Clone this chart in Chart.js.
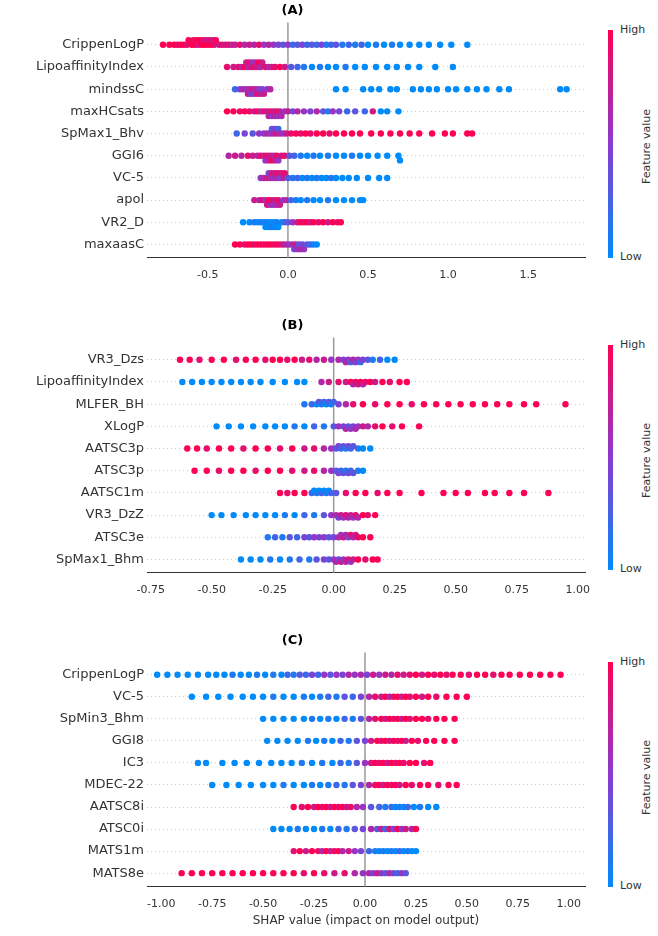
<!DOCTYPE html>
<html>
<head>
<meta charset="utf-8">
<script src="https://cdn.jsdelivr.net/npm/chart.js@4.4.0/dist/chart.umd.min.js"></script>
<style>
  body { margin: 0; background: #fff; font-family: "DejaVu Sans", sans-serif; }
  .panel { position: absolute; left: 0; width: 600px; }
  .cbar { position: absolute; left: 608px; width: 5px; background: linear-gradient(to bottom, #ff0052, #8a3ad0, #008bfb); }
  .cb-t { position: absolute; left: 620px; font-size: 11px; color: #333; }
  .cb-v { position: absolute; left: 640px; font-size: 11px; color: #333; transform: rotate(-90deg); transform-origin: left top; white-space: nowrap; }
</style>
</head>
<body>
<div class="panel" style="top:0;height:285px"><canvas id="cA"></canvas></div>
<div class="panel" style="top:315px;height:285px"><canvas id="cB"></canvas></div>
<div class="panel" style="top:630px;height:298px"><canvas id="cC"></canvas></div>
<div id="bars"></div>
<script>
// feature names per panel (top to bottom)
const namesA = ['CrippenLogP','LipoaffinityIndex','mindssC','maxHCsats','SpMax1_Bhv','GGI6','VC-5','apol','VR2_D','maxaasC'];
const namesB = ['VR3_Dzs','LipoaffinityIndex','MLFER_BH','XLogP','AATSC3p','ATSC3p','AATSC1m','VR3_DzZ','ATSC3e','SpMax1_Bhm'];
const namesC = ['CrippenLogP','VC-5','SpMin3_Bhm','GGI8','IC3','MDEC-22','AATSC8i','ATSC0i','MATS1m','MATS8e'];

// SHAP values with feature level (0 = low/blue .. 9 = high/red), pairs [shap, level]
const shapA = [
  [[-0.78,9],[-0.74,9],[-0.71,9],[-0.69,8],[-0.67,9],[-0.65,9],[-0.63,8],[-0.62,9],[-0.6,9],[-0.59,8],[-0.58,9],[-0.57,9],[-0.56,7],[-0.55,9],[-0.54,9],[-0.53,8],[-0.52,9],[-0.51,7],[-0.5,9],[-0.49,8],[-0.48,9],[-0.47,7],[-0.46,8],[-0.45,9],[-0.43,7],[-0.41,8],[-0.39,7],[-0.37,8],[-0.35,6],[-0.33,7],[-0.3,8],[-0.27,6],[-0.24,7],[-0.21,6],[-0.18,8],[-0.15,5],[-0.12,6],[-0.09,5],[-0.06,4],[-0.03,3],[0.0,5],[0.03,2],[0.06,3],[0.09,4],[0.12,2],[0.15,3],[0.18,2],[0.21,4],[0.24,1],[0.27,2],[0.3,3],[0.34,1],[0.38,2],[0.42,1],[0.46,2],[0.5,0],[0.55,1],[0.6,0],[0.65,1],[0.7,0],[0.76,0],[0.82,0],[0.88,0],[0.95,0],[1.02,0],[1.12,0]],
  [[-0.38,8],[-0.34,7],[-0.31,8],[-0.29,6],[-0.27,9],[-0.26,7],[-0.25,6],[-0.24,8],[-0.23,7],[-0.22,5],[-0.21,8],[-0.2,6],[-0.19,7],[-0.18,9],[-0.17,6],[-0.16,7],[-0.14,8],[-0.12,6],[-0.1,7],[-0.08,8],[-0.05,9],[-0.02,7],[0.02,3],[0.06,2],[0.1,1],[0.15,0],[0.2,1],[0.25,0],[0.3,0],[0.36,1],[0.42,0],[0.48,0],[0.55,0],[0.62,0],[0.68,0],[0.75,0],[0.82,0],[0.92,0],[1.03,0]],
  [[-0.33,2],[-0.3,4],[-0.28,6],[-0.26,5],[-0.25,7],[-0.24,6],[-0.23,4],[-0.22,7],[-0.21,5],[-0.2,6],[-0.19,8],[-0.18,5],[-0.17,6],[-0.16,4],[-0.15,7],[-0.13,5],[-0.11,6],[0.3,0],[0.36,0],[0.47,0],[0.52,0],[0.57,0],[0.64,0],[0.68,0],[0.78,0],[0.83,0],[0.88,0],[0.93,0],[1.0,0],[1.05,0],[1.12,0],[1.18,0],[1.24,0],[1.32,0],[1.38,0],[1.7,0],[1.74,0]],
  [[-0.38,9],[-0.34,9],[-0.3,8],[-0.27,9],[-0.24,8],[-0.21,7],[-0.19,9],[-0.17,6],[-0.15,8],[-0.13,7],[-0.12,6],[-0.11,8],[-0.1,5],[-0.09,7],[-0.08,6],[-0.07,8],[-0.06,5],[-0.05,7],[-0.04,6],[-0.02,5],[0.0,7],[0.03,4],[0.06,6],[0.1,5],[0.14,4],[0.18,6],[0.22,3],[0.25,1],[0.28,5],[0.32,4],[0.37,2],[0.42,3],[0.48,2],[0.53,7],[0.58,0],[0.62,0],[0.69,0]],
  [[-0.32,2],[-0.27,4],[-0.22,3],[-0.18,5],[-0.15,4],[-0.13,6],[-0.11,5],[-0.1,3],[-0.09,6],[-0.08,4],[-0.07,7],[-0.06,2],[-0.05,6],[-0.03,5],[-0.01,7],[0.02,8],[0.05,9],[0.08,8],[0.11,9],[0.14,8],[0.18,9],[0.22,9],[0.26,8],[0.3,9],[0.35,9],[0.4,9],[0.45,9],[0.52,9],[0.58,9],[0.64,9],[0.7,9],[0.76,9],[0.82,9],[0.9,9],[0.98,9],[1.03,9],[1.12,9],[1.15,9]],
  [[-0.37,6],[-0.33,7],[-0.29,6],[-0.25,8],[-0.22,7],[-0.19,6],[-0.17,8],[-0.15,7],[-0.14,5],[-0.13,8],[-0.12,6],[-0.11,7],[-0.1,9],[-0.09,6],[-0.08,7],[-0.07,8],[-0.06,5],[-0.04,7],[-0.02,8],[0.01,3],[0.04,2],[0.08,1],[0.12,0],[0.16,1],[0.2,0],[0.25,1],[0.3,0],[0.35,0],[0.4,1],[0.45,0],[0.5,0],[0.56,0],[0.62,0],[0.69,0],[0.7,0]],
  [[-0.17,5],[-0.15,6],[-0.13,7],[-0.12,4],[-0.11,6],[-0.1,8],[-0.09,5],[-0.08,7],[-0.07,6],[-0.06,8],[-0.05,4],[-0.04,7],[-0.03,6],[-0.02,8],[0.0,3],[0.03,1],[0.06,2],[0.09,0],[0.12,1],[0.15,0],[0.18,1],[0.21,0],[0.24,0],[0.27,1],[0.3,0],[0.34,0],[0.38,0],[0.43,0],[0.5,0],[0.57,0],[0.62,0]],
  [[-0.21,7],[-0.18,6],[-0.16,8],[-0.14,5],[-0.13,7],[-0.12,9],[-0.11,6],[-0.1,8],[-0.09,5],[-0.08,7],[-0.07,6],[-0.06,8],[-0.05,7],[-0.03,5],[-0.01,6],[0.02,2],[0.05,1],[0.08,0],[0.12,1],[0.16,0],[0.2,0],[0.25,1],[0.3,0],[0.35,0],[0.4,0],[0.45,0],[0.47,0]],
  [[-0.28,0],[-0.24,0],[-0.21,1],[-0.19,0],[-0.17,1],[-0.15,0],[-0.14,0],[-0.13,1],[-0.12,0],[-0.11,0],[-0.1,1],[-0.09,0],[-0.08,0],[-0.07,1],[-0.06,0],[-0.04,0],[-0.02,2],[0.0,3],[0.03,5],[0.06,7],[0.08,9],[0.1,8],[0.12,9],[0.14,7],[0.16,9],[0.19,8],[0.22,9],[0.25,7],[0.28,9],[0.31,8],[0.33,9]],
  [[-0.33,9],[-0.3,9],[-0.27,8],[-0.25,9],[-0.23,9],[-0.21,8],[-0.19,9],[-0.17,9],[-0.15,8],[-0.13,9],[-0.11,9],[-0.09,8],[-0.07,9],[-0.05,8],[-0.03,7],[-0.01,6],[0.01,5],[0.03,6],[0.04,4],[0.05,7],[0.06,5],[0.07,3],[0.08,6],[0.09,4],[0.1,5],[0.12,3],[0.14,2],[0.16,1],[0.18,0]]
];

const shapB = [
  [[-0.63,9],[-0.59,9],[-0.55,8],[-0.5,9],[-0.45,9],[-0.4,8],[-0.36,9],[-0.32,9],[-0.28,8],[-0.25,9],[-0.22,9],[-0.19,8],[-0.16,9],[-0.13,7],[-0.1,8],[-0.07,6],[-0.04,7],[-0.01,5],[0.02,6],[0.04,4],[0.05,6],[0.06,5],[0.07,3],[0.08,6],[0.09,4],[0.1,5],[0.11,2],[0.12,4],[0.14,3],[0.16,1],[0.19,2],[0.22,0],[0.25,0]],
  [[-0.62,0],[-0.58,0],[-0.54,0],[-0.5,0],[-0.46,0],[-0.42,0],[-0.38,0],[-0.34,0],[-0.3,0],[-0.25,0],[-0.2,0],[-0.15,0],[-0.12,0],[-0.05,6],[-0.02,7],[0.02,8],[0.05,7],[0.07,9],[0.08,6],[0.09,8],[0.1,7],[0.11,9],[0.12,6],[0.13,8],[0.15,9],[0.17,7],[0.2,9],[0.23,8],[0.27,9],[0.3,9]],
  [[-0.12,1],[-0.09,2],[-0.07,0],[-0.06,3],[-0.05,1],[-0.04,2],[-0.03,0],[-0.02,3],[-0.01,1],[0.0,2],[0.02,4],[0.05,6],[0.08,8],[0.12,9],[0.17,8],[0.22,9],[0.27,9],[0.32,8],[0.37,9],[0.42,9],[0.47,9],[0.52,9],[0.57,9],[0.62,9],[0.67,9],[0.72,9],[0.78,9],[0.83,9],[0.95,9]],
  [[-0.48,0],[-0.43,0],[-0.38,0],[-0.33,0],[-0.28,0],[-0.24,0],[-0.2,0],[-0.16,1],[-0.12,0],[-0.08,2],[-0.04,1],[0.0,3],[0.02,5],[0.04,4],[0.05,6],[0.06,3],[0.07,5],[0.08,4],[0.09,6],[0.1,5],[0.12,7],[0.14,6],[0.17,8],[0.2,9],[0.24,8],[0.28,9],[0.35,9]],
  [[-0.6,9],[-0.56,9],[-0.52,8],[-0.47,9],[-0.42,9],[-0.37,8],[-0.32,9],[-0.27,9],[-0.22,8],[-0.17,9],[-0.12,7],[-0.08,8],[-0.04,6],[-0.01,5],[0.01,3],[0.02,4],[0.03,2],[0.04,3],[0.05,1],[0.06,4],[0.07,2],[0.08,3],[0.1,1],[0.12,0],[0.15,0]],
  [[-0.57,9],[-0.52,9],[-0.47,8],[-0.42,9],[-0.37,9],[-0.32,8],[-0.27,9],[-0.22,9],[-0.17,8],[-0.12,7],[-0.08,8],[-0.04,6],[-0.01,5],[0.01,3],[0.02,4],[0.03,2],[0.04,3],[0.05,1],[0.06,4],[0.07,2],[0.08,3],[0.1,1],[0.12,0]],
  [[-0.22,9],[-0.19,8],[-0.16,9],[-0.12,9],[-0.09,2],[-0.08,0],[-0.07,1],[-0.06,0],[-0.05,2],[-0.04,0],[-0.03,1],[-0.02,0],[-0.01,2],[0.01,3],[0.05,8],[0.09,9],[0.13,9],[0.18,8],[0.22,9],[0.27,9],[0.36,9],[0.45,9],[0.5,9],[0.55,9],[0.62,9],[0.66,9],[0.72,9],[0.78,9],[0.88,9]],
  [[-0.5,0],[-0.46,0],[-0.41,0],[-0.36,0],[-0.32,0],[-0.28,0],[-0.24,0],[-0.2,1],[-0.16,0],[-0.12,2],[-0.08,1],[-0.04,3],[-0.01,5],[0.01,6],[0.02,4],[0.03,7],[0.04,5],[0.05,8],[0.06,6],[0.07,7],[0.08,5],[0.09,8],[0.1,6],[0.12,9],[0.14,8],[0.17,9]],
  [[-0.27,1],[-0.24,2],[-0.21,1],[-0.18,3],[-0.15,2],[-0.12,4],[-0.1,3],[-0.08,5],[-0.06,4],[-0.04,5],[-0.02,3],[0.0,4],[0.02,6],[0.03,5],[0.04,7],[0.05,6],[0.06,4],[0.07,8],[0.08,6],[0.09,7],[0.1,8],[0.12,9],[0.15,9]],
  [[-0.38,0],[-0.34,0],[-0.3,0],[-0.26,1],[-0.22,0],[-0.18,1],[-0.14,2],[-0.1,1],[-0.07,3],[-0.04,4],[-0.02,3],[0.0,5],[0.01,6],[0.02,4],[0.03,7],[0.04,5],[0.05,6],[0.06,8],[0.07,5],[0.08,7],[0.1,9],[0.13,8],[0.16,9],[0.18,9]]
];

const shapC = [
  [[-1.02,0],[-0.97,0],[-0.92,0],[-0.87,0],[-0.82,0],[-0.77,0],[-0.73,0],[-0.69,0],[-0.65,1],[-0.61,0],[-0.57,0],[-0.53,1],[-0.49,0],[-0.45,1],[-0.41,0],[-0.38,2],[-0.35,1],[-0.32,3],[-0.29,2],[-0.26,4],[-0.23,2],[-0.2,5],[-0.17,3],[-0.14,5],[-0.11,4],[-0.08,6],[-0.05,5],[-0.02,6],[0.01,4],[0.04,7],[0.07,5],[0.1,7],[0.13,6],[0.16,8],[0.19,7],[0.22,8],[0.25,9],[0.28,7],[0.31,9],[0.34,8],[0.37,9],[0.4,8],[0.43,9],[0.47,9],[0.51,8],[0.55,9],[0.59,9],[0.63,8],[0.67,9],[0.71,9],[0.76,9],[0.81,9],[0.86,9],[0.91,9],[0.96,9]],
  [[-0.85,0],[-0.78,0],[-0.72,0],[-0.66,0],[-0.6,0],[-0.55,0],[-0.5,0],[-0.45,1],[-0.4,0],[-0.35,0],[-0.3,1],[-0.26,0],[-0.22,1],[-0.18,2],[-0.14,1],[-0.1,3],[-0.06,2],[-0.02,4],[0.02,6],[0.05,8],[0.08,7],[0.1,9],[0.12,6],[0.14,8],[0.16,9],[0.18,7],[0.2,9],[0.22,8],[0.25,9],[0.28,7],[0.31,9],[0.35,8],[0.4,9],[0.45,9],[0.5,9]],
  [[-0.5,0],[-0.45,0],[-0.4,0],[-0.35,0],[-0.3,0],[-0.26,1],[-0.22,0],[-0.18,1],[-0.14,0],[-0.1,2],[-0.06,1],[-0.02,3],[0.02,6],[0.05,8],[0.08,9],[0.1,7],[0.12,9],[0.14,8],[0.16,9],[0.18,7],[0.2,9],[0.22,8],[0.25,9],[0.28,9],[0.31,8],[0.35,9],[0.39,9],[0.44,9]],
  [[-0.48,0],[-0.43,0],[-0.38,0],[-0.33,0],[-0.28,1],[-0.24,0],[-0.2,1],[-0.16,0],[-0.12,2],[-0.08,1],[-0.04,3],[0.0,4],[0.03,7],[0.06,9],[0.08,8],[0.1,9],[0.12,7],[0.14,9],[0.16,8],[0.18,9],[0.2,7],[0.23,9],[0.26,8],[0.3,9],[0.34,9],[0.39,9],[0.44,9]],
  [[-0.82,0],[-0.78,0],[-0.7,0],[-0.64,0],[-0.58,0],[-0.52,0],[-0.46,0],[-0.41,0],[-0.36,0],[-0.31,1],[-0.26,0],[-0.21,1],[-0.16,0],[-0.12,2],[-0.08,1],[-0.04,3],[0.0,5],[0.03,7],[0.05,9],[0.07,8],[0.09,9],[0.11,7],[0.13,9],[0.15,8],[0.17,9],[0.19,8],[0.22,9],[0.25,9],[0.29,8],[0.32,9]],
  [[-0.75,0],[-0.68,0],[-0.62,0],[-0.56,0],[-0.5,0],[-0.45,0],[-0.4,1],[-0.35,0],[-0.3,0],[-0.26,1],[-0.22,0],[-0.18,1],[-0.14,2],[-0.1,1],[-0.06,3],[-0.02,4],[0.02,6],[0.05,8],[0.07,9],[0.09,7],[0.11,9],[0.13,8],[0.15,9],[0.17,7],[0.2,9],[0.23,8],[0.27,9],[0.31,9],[0.36,8],[0.41,9],[0.45,9]],
  [[-0.35,9],[-0.31,8],[-0.28,9],[-0.25,7],[-0.23,9],[-0.21,8],[-0.19,9],[-0.17,7],[-0.15,9],[-0.13,8],[-0.11,9],[-0.09,7],[-0.07,8],[-0.04,6],[-0.01,5],[0.03,3],[0.07,2],[0.1,1],[0.13,2],[0.15,0],[0.17,1],[0.19,0],[0.21,2],[0.24,0],[0.27,1],[0.31,0],[0.35,0]],
  [[-0.45,0],[-0.41,0],[-0.37,0],[-0.33,1],[-0.29,0],[-0.25,0],[-0.21,1],[-0.17,0],[-0.13,2],[-0.09,1],[-0.05,3],[-0.01,4],[0.03,6],[0.06,3],[0.08,7],[0.1,2],[0.12,8],[0.14,4],[0.16,9],[0.18,5],[0.2,7],[0.23,6],[0.25,9]],
  [[-0.35,8],[-0.32,9],[-0.29,7],[-0.26,9],[-0.23,8],[-0.21,6],[-0.19,9],[-0.17,7],[-0.15,8],[-0.13,9],[-0.11,6],[-0.08,7],[-0.05,5],[-0.02,4],[0.02,2],[0.05,1],[0.07,0],[0.09,1],[0.11,0],[0.13,1],[0.15,0],[0.17,2],[0.19,0],[0.21,1],[0.23,0],[0.25,0]],
  [[-0.9,9],[-0.85,9],[-0.8,9],[-0.75,9],[-0.7,9],[-0.65,9],[-0.6,9],[-0.55,9],[-0.5,9],[-0.45,9],[-0.4,9],[-0.35,9],[-0.3,8],[-0.25,9],[-0.2,8],[-0.15,7],[-0.1,8],[-0.05,6],[-0.01,5],[0.02,6],[0.04,4],[0.06,7],[0.08,5],[0.1,3],[0.12,6],[0.14,4],[0.16,2],[0.18,5],[0.2,3]]
];

function levelColor(c) {
  const t = c / 9;
  const lo = [0, 139, 251], mid = [138, 58, 208], hi = [255, 0, 82];
  let a, b, u;
  if (t < 0.5) { a = lo; b = mid; u = t * 2; } else { a = mid; b = hi; u = (t - 0.5) * 2; }
  const rgb = a.map((v, i) => Math.round(v + (b[i] - v) * u));
  return 'rgb(' + rgb.join(',') + ')';
}

// beeswarm placement: stack points vertically where they would overlap,
// alternating the side tried first so clusters grow both ways
function swarm(rows, pxPerUnit, rowPx) {
  const pts = [];
  rows.forEach((row, r) => {
    const placed = [];
    row.slice().sort((p, q) => p[0] - q[0]).forEach(([x, c], i) => {
      const s = i % 2 ? -1 : 1;
      const cands = [0];
      for (let k = 1; k <= 4; k++) cands.push(s * k, -s * k);
      let off = 0;
      for (const k of cands) {
        const dy = k * 2.2;
        const ok = placed.every(p => {
          const dx = (p.x - x) * pxPerUnit, d = p.dy - dy;
          return dx * dx + d * d >= 9;
        });
        off = dy;
        if (ok) break;
      }
      placed.push({ x, dy: off });
      pts.push({ x: x, y: r + off / rowPx, c: levelColor(c) });
    });
  });
  return pts;
}

const zeroLine = {
  id: 'zeroLine',
  beforeDatasetsDraw(chart) {
    const { ctx, chartArea, scales } = chart;
    const x = scales.x.getPixelForValue(0);
    ctx.save();
    ctx.strokeStyle = '#999';
    ctx.lineWidth = 1.5;
    ctx.beginPath();
    ctx.moveTo(x, chartArea.top - 10);
    ctx.lineTo(x, chartArea.bottom);
    ctx.stroke();
    ctx.restore();
  }
};

function makeChart(id, title, names, rows, xmin, xmax, ticks, digits, xlabel) {
  const pts = swarm(rows, 437 / (xmax - xmin), 21);
  new Chart(document.getElementById(id), {
    type: 'scatter',
    data: { datasets: [{
      data: pts,
      pointRadius: 3.2,
      pointBorderWidth: 0,
      pointBackgroundColor: pts.map(p => p.c)
    }] },
    options: {
      responsive: true,
      maintainAspectRatio: false,
      animation: false,
      layout: { padding: { top: 0, right: 15, left: 0, bottom: 0 } },
      plugins: {
        legend: { display: false },
        tooltip: { enabled: false },
        title: { display: true, text: title, color: '#000', padding: { top: 3, bottom: 14 },
          font: { family: 'DejaVu Sans', size: 13, weight: 'bold' } }
      },
      scales: {
        x: {
          min: xmin, max: xmax,
          afterBuildTicks: s => { s.ticks = ticks.map(v => ({ value: v })); },
          ticks: { color: '#333', font: { family: 'DejaVu Sans', size: 11 }, callback: v => v.toFixed(digits) },
          grid: { display: false },
          border: { color: '#333', width: 1 },
          title: { display: !!xlabel, text: xlabel, color: '#333', padding: 0,
            font: { family: 'DejaVu Sans', size: 12 } }
        },
        y: {
          reverse: true, min: -0.55, max: 9.6,
          afterBuildTicks: s => { s.ticks = names.map((n, i) => ({ value: i })); },
          afterFit: s => { s.width = 147; },
          ticks: { color: '#333', font: { family: 'DejaVu Sans', size: 13 }, callback: v => names[v] },
          grid: { color: '#ccc', drawTicks: false, lineWidth: 1 },
          border: { display: false, dash: [1, 3] }
        }
      }
    },
    plugins: [zeroLine]
  });
}

makeChart('cA', '(A)', namesA, shapA, -0.88, 1.855, [-0.5, 0, 0.5, 1, 1.5], 1, null);
makeChart('cB', '(B)', namesB, shapB, -0.765, 1.03, [-0.75, -0.5, -0.25, 0, 0.25, 0.5, 0.75, 1], 2, null);
makeChart('cC', '(C)', namesC, shapC, -1.07, 1.08, [-1, -0.75, -0.5, -0.25, 0, 0.25, 0.5, 0.75, 1], 2, 'SHAP value (impact on model output)');

// colour bars
const barPos = [[30, 258], [345, 570], [662, 887]];
const bars = document.getElementById('bars');
barPos.forEach(([t, b]) => {
  bars.insertAdjacentHTML('beforeend',
    `<div class="cbar" style="top:${t}px;height:${b - t}px"></div>` +
    `<div class="cb-t" style="top:${t - 7}px">High</div>` +
    `<div class="cb-t" style="top:${b - 8}px">Low</div>` +
    `<div class="cb-v" style="top:${(t + b) / 2 + 40}px">Feature value</div>`);
});
</script>
</body>
</html>
